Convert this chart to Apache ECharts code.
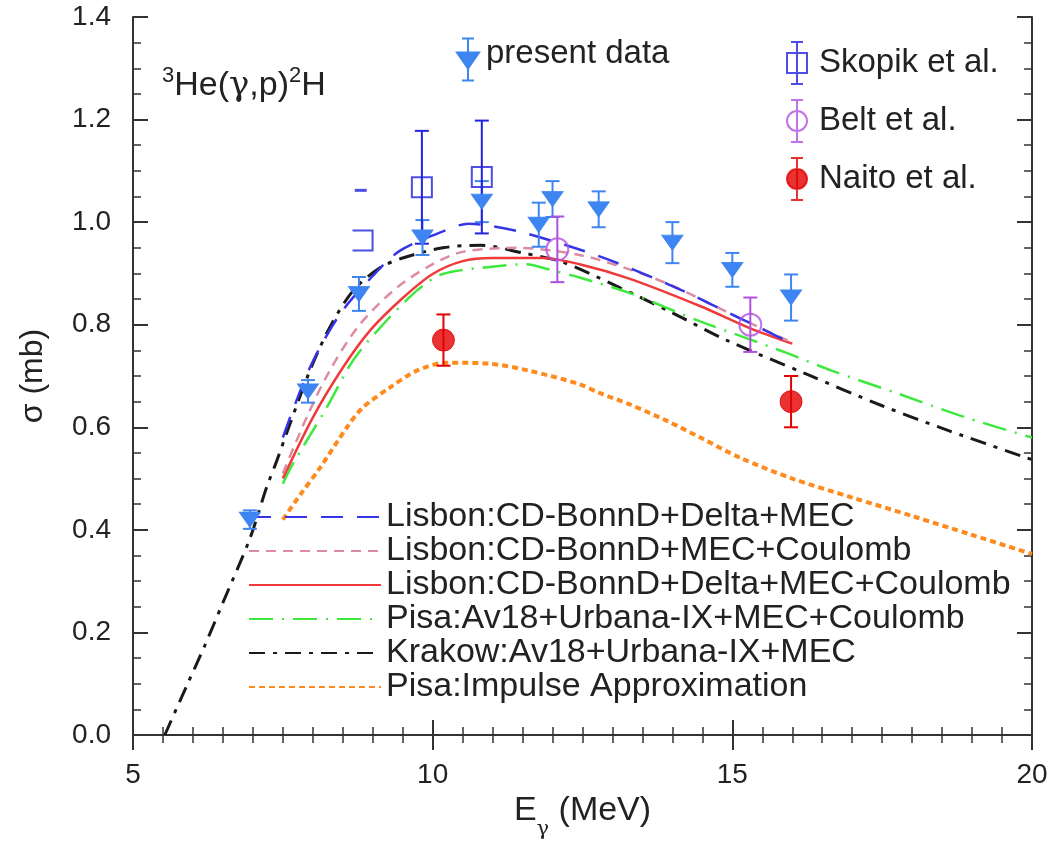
<!DOCTYPE html>
<html><head><meta charset="utf-8">
<script src="https://cdn.jsdelivr.net/npm/echarts@6/dist/echarts.min.js"></script>
<style>html,body{margin:0;padding:0;background:#fff}#c{width:1053px;height:842px}</style>
</head><body><div id="c"></div>
<script>
// ---- data (E in MeV, sigma in mb, error) ----
const presentData = [[6.95,0.42,0.018],[7.92,0.67,0.022],[8.77,0.86,0.033],[9.83,0.97,0.034],[10.82,1.04,0.04],[11.77,0.995,0.043],[12.0,1.045,0.035],[12.77,1.025,0.035],[14.0,0.96,0.04],[15.0,0.907,0.033],[15.98,0.853,0.045]];
const skopikData = [[9.82,1.068,0.11],[10.82,1.088,0.11]];
const beltData = [[12.08,0.947,0.064],[15.3,0.80,0.053]];
const naitoData = [[10.18,0.77,0.05],[15.98,0.65,0.05]];
const skopikStrayDash = [[8.8,1.062]];
const skopikStrayBracket = [[8.83,0.964]];

const lisbonDeltaMEC = [[7.5,0.58],[7.95,0.716],[8.45,0.82],[9.0,0.895],[9.45,0.944],[10.17,0.982],[10.6,0.997],[11.0,0.992],[11.5,0.98],[12.28,0.953],[13.0,0.924],[14.1,0.87],[15.12,0.813],[16.0,0.763]];
const lisbonMECCoul = [[7.5,0.51],[7.9,0.62],[8.28,0.71],[8.78,0.80],[9.4,0.872],[10.0,0.918],[10.5,0.942],[11.4,0.95],[12.45,0.936],[13.28,0.908],[14.0,0.876],[15.12,0.813],[16.0,0.765]];
const lisbonDeltaMECCoul = [[7.5,0.50],[8.0,0.619],[8.5,0.716],[8.95,0.788],[9.5,0.852],[10.0,0.899],[10.5,0.924],[11.0,0.93],[11.83,0.93],[12.45,0.918],[13.28,0.89],[14.45,0.837],[15.28,0.794],[16.0,0.763]];
const pisaCoul = [[7.5,0.49],[7.67,0.529],[8.23,0.638],[8.67,0.73],[9.12,0.794],[9.73,0.866],[10.17,0.899],[11.07,0.914],[11.57,0.918],[11.9,0.909],[12.45,0.892],[13.28,0.862],[14.45,0.807],[15.28,0.772],[15.95,0.743],[16.67,0.71],[17.78,0.665],[18.9,0.619],[20.0,0.58]];
const krakow = [[5.53,0.0],[5.9,0.097],[6.2,0.175],[6.5,0.258],[6.95,0.383],[7.23,0.483],[7.4,0.535],[7.62,0.607],[7.95,0.71],[8.28,0.794],[8.67,0.866],[9.12,0.911],[9.5,0.93],[10.17,0.95],[10.8,0.955],[11.5,0.94],[12.17,0.922],[13.0,0.879],[14.0,0.823],[14.9,0.77],[16.23,0.704],[17.5,0.642],[18.62,0.593],[20.0,0.537]];
const pisaIA = [[7.5,0.42],[7.8,0.47],[8.12,0.521],[8.57,0.60],[8.83,0.638],[9.28,0.677],[9.73,0.71],[10.23,0.726],[10.95,0.724],[11.62,0.71],[12.45,0.684],[12.78,0.667],[13.28,0.645],[13.9,0.613],[14.5,0.578],[15.12,0.541],[16.0,0.5],[17.0,0.463],[18.0,0.427],[19.0,0.39],[20.0,0.353]];

const xTickValues = [5,10,15,20];
const yTickLabels = ['0.0','0.2','0.4','0.6','0.8','1.0','1.2','1.4'];

const FONT = 'Liberation Sans, Arial, Helvetica, sans-serif';
const C_PRES = '#3d85f0', C_SKO = '#2222e0', C_BELT = '#b050e0', C_NAI = '#e40000';

function errBars(color, capHalf, lw) {
  return function (params, api) {
    const x = api.value(0), y = api.value(1), e = api.value(2);
    const t = api.coord([x, y + e]), b = api.coord([x, y - e]);
    const st = { stroke: color, lineWidth: lw };
    return { type: 'group', children: [
      { type: 'line', shape: { x1: t[0], y1: t[1], x2: b[0], y2: b[1] }, style: st },
      { type: 'line', shape: { x1: t[0]-capHalf, y1: t[1], x2: t[0]+capHalf, y2: t[1] }, style: st },
      { type: 'line', shape: { x1: b[0]-capHalf, y1: b[1], x2: b[0]+capHalf, y2: b[1] }, style: st }
    ]};
  };
}
function curve(name, data, color, width, type) {
  return { type: 'line', name, data, symbol: 'none', smooth: 0.3, silent: true, z: 2,
    lineStyle: { color, width, type }, itemStyle: { color } };
}
function bars(name, data, color) {
  return { type: 'custom', name: name + ' err', data, renderItem: errBars(color, 7, 2), z: 3, silent: true,
    encode: { x: 0, y: 1 } };
}

const triPath = 'path://M0,0L20,0L10,15Z';
const legTri = 'path://M0,14L22,14L11,30Z M11,0L11,42 M5,0L17,0 M5,42L17,42';
const legSq = 'path://M1,11L21,11L21,31L1,31Z M11,0L11,42 M5,0L17,0 M5,42L17,42';
const legCirc = 'path://M1,21A10,10 0 1,1 21,21A10,10 0 1,1 1,21Z M11,0L11,42 M5,0L17,0 M5,42L17,42';

const axisCommon = {
  axisLine: { lineStyle: { color: '#333', width: 2 } },
  axisTick: { inside: true, length: 15, lineStyle: { color: '#333', width: 2 } },
  splitLine: { show: false }
};
const minorX = { show: true, splitNumber: 10, length: 8, lineStyle: { color: '#333', width: 1.5 } };
const minorY = { show: true, splitNumber: 4, length: 8, lineStyle: { color: '#333', width: 1.5 } };

const chart = echarts.init(document.getElementById('c'));
chart.setOption({
  animation: false,
  backgroundColor: '#fff',
  textStyle: { fontFamily: FONT },
  grid: { left: 133, right: 21, top: 17, bottom: 107, containLabel: false, outerBoundsMode: 'none' },
  xAxis: [
    Object.assign({ type: 'value', min: 5, max: 20, interval: 5, position: 'bottom', minorTick: minorX,
      axisLabel: { fontSize: 28, color: '#222', margin: 26, fontFamily: FONT,
        formatter: v => xTickValues.includes(v) ? String(v) : '' },
      name: '{a|E}{s|γ}{a| (MeV)}', nameLocation: 'middle', nameGap: 56,
      nameTextStyle: { rich: {
        a: { fontSize: 34, color: '#222', fontFamily: FONT, lineHeight: 36, verticalAlign: 'top' },
        s: { fontSize: 21, color: '#222', fontFamily: 'DejaVu Serif, serif', lineHeight: 46, verticalAlign: 'bottom' }
      } }
    }, axisCommon),
    Object.assign({ type: 'value', min: 5, max: 20, interval: 5, position: 'top', minorTick: minorX,
      axisLabel: { show: false } }, axisCommon)
  ],
  yAxis: [
    Object.assign({ type: 'value', min: 0, max: 1.4, interval: 0.2, position: 'left', minorTick: minorY,
      axisLabel: { fontSize: 28, color: '#222', margin: 22, fontFamily: FONT,
        formatter: v => yTickLabels[Math.round(v / 0.2)] },
      name: 'σ (mb)', nameLocation: 'middle', nameGap: 84,
      nameTextStyle: { fontSize: 32, color: '#222', fontFamily: FONT }
    }, axisCommon),
    Object.assign({ type: 'value', min: 0, max: 1.4, interval: 0.2, position: 'right', minorTick: minorY,
      axisLabel: { show: false } }, axisCommon)
  ],
  title: { text: '{sup|3}{m|He(}{g|γ}{m|,p)}{sup|2}{m|H}', left: 157, top: 60,
    textStyle: { fontWeight: 'normal', rich: {
      m: { fontSize: 34, fontWeight: 'normal', color: '#222', fontFamily: FONT, lineHeight: 38, verticalAlign: 'bottom' },
      g: { fontSize: 34, fontWeight: 'normal', color: '#222', fontFamily: 'DejaVu Serif, serif', lineHeight: 38, verticalAlign: 'bottom' },
      sup: { fontSize: 22, fontWeight: 'normal', color: '#222', fontFamily: FONT, lineHeight: 22, verticalAlign: 'top' }
    } } },
  legend: [
    { orient: 'vertical', left: 243, top: 495, itemWidth: 132, itemHeight: 14, itemGap: 0,
      itemStyle: { opacity: 0 },
      textStyle: { fontSize: 34, color: '#222', fontFamily: FONT, lineHeight: 34 },
      data: ['Lisbon:CD-BonnD+Delta+MEC', 'Lisbon:CD-BonnD+MEC+Coulomb', 'Lisbon:CD-BonnD+Delta+MEC+Coulomb',
             'Pisa:Av18+Urbana-IX+MEC+Coulomb', 'Krakow:Av18+Urbana-IX+MEC', 'Pisa:Impulse Approximation'] },
    { orient: 'horizontal', left: 451, top: 32, itemWidth: 22, itemHeight: 42,
      formatter: n => '{t|' + n + '}',
      textStyle: { fontSize: 33, color: '#222', fontFamily: FONT,
        rich: { t: { fontSize: 33, color: '#222', fontFamily: FONT, padding: [0, 0, 12, 2] } } },
      data: [{ name: 'present data', icon: legTri, itemStyle: { borderWidth: 2, borderColor: C_PRES, color: C_PRES } }] },
    { orient: 'vertical', left: 781, top: 36, itemWidth: 22, itemHeight: 42, itemGap: 14,
      textStyle: { fontSize: 33, color: '#222', fontFamily: FONT, padding: [0, 0, 0, 6] },
      data: [
        { name: 'Skopik et al.', icon: legSq, itemStyle: { borderWidth: 2, borderColor: C_SKO, color: 'rgba(0,0,0,0)' } },
        { name: 'Belt et al.', icon: legCirc, itemStyle: { borderWidth: 2, borderColor: C_BELT, color: 'rgba(0,0,0,0)' } },
        { name: 'Naito et al.', icon: legCirc, itemStyle: { borderWidth: 2, borderColor: C_NAI, color: C_NAI } }
      ] }
  ],
  series: [
    curve('Pisa:Impulse Approximation', pisaIA, '#ff8a1e', 4, [6, 4]),
    curve('Krakow:Av18+Urbana-IX+MEC', krakow, '#1a1a1a', 3, [16, 8, 4, 8]),
    curve('Pisa:Av18+Urbana-IX+MEC+Coulomb', pisaCoul, '#3ee83e', 2.5, [24, 9, 2, 9]),
    curve('Lisbon:CD-BonnD+Delta+MEC+Coulomb', lisbonDeltaMECCoul, '#f03a3a', 2.5, 'solid'),
    curve('Lisbon:CD-BonnD+MEC+Coulomb', lisbonMECCoul, '#dc8ca0', 2.5, [10, 7]),
    curve('Lisbon:CD-BonnD+Delta+MEC', lisbonDeltaMEC, '#3535e6', 2.5, [22, 14]),
    bars('present data', presentData, C_PRES),
    bars('Skopik et al.', skopikData, C_SKO),
    bars('Belt et al.', beltData, C_BELT),
    bars('Naito et al.', naitoData, C_NAI),
    { type: 'scatter', name: 'present data', data: presentData.map(d => [d[0], d[1]]), symbol: triPath,
      symbolSize: [21, 15], z: 4, itemStyle: { color: C_PRES, borderColor: C_PRES, borderWidth: 1, opacity: 1 } },
    { type: 'scatter', name: 'Skopik et al.', data: skopikData.map(d => [d[0], d[1]]), symbol: 'rect',
      symbolSize: 20, z: 4, itemStyle: { color: 'rgba(0,0,0,0)', borderColor: C_SKO, borderWidth: 2 } },
    { type: 'scatter', name: 'Belt et al.', data: beltData.map(d => [d[0], d[1]]), symbol: 'circle',
      symbolSize: 22, z: 4, itemStyle: { color: 'rgba(0,0,0,0)', borderColor: C_BELT, borderWidth: 2 } },
    { type: 'scatter', name: 'Naito et al.', data: naitoData.map(d => [d[0], d[1]]), symbol: 'circle',
      symbolSize: 22, z: 4, itemStyle: { color: C_NAI, borderColor: C_NAI, borderWidth: 1 } },
    { type: 'scatter', name: 'stray1', data: skopikStrayDash, symbol: 'rect', symbolSize: [12, 3], z: 4,
      itemStyle: { color: C_SKO } },
    { type: 'scatter', name: 'stray2', data: skopikStrayBracket, symbol: 'path://M0,0L20,0L20,20L0,20', symbolSize: [20, 20], z: 4,
      itemStyle: { color: 'rgba(0,0,0,0)', borderColor: C_SKO, borderWidth: 2 } }
  ]
});
</script></body></html>
